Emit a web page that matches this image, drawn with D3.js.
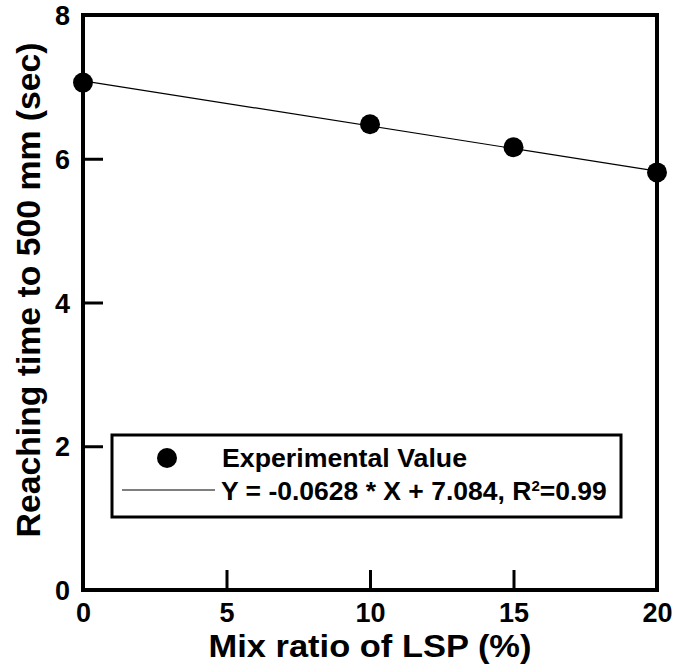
<!DOCTYPE html>
<html><head><meta charset="utf-8">
<script src="https://cdn.jsdelivr.net/npm/d3@7"></script>
<style>body{margin:0;background:#fff}</style>
</head><body>
<svg id="c" width="673" height="665"></svg>
<script>
const xValues = [0, 10, 15, 20];
const yValues = [7.06, 6.48, 6.16, 5.81];
const xTicks = [0, 5, 10, 15, 20];
const yTicks = [0, 2, 4, 6, 8];
const fitSlope = -0.0628, fitIntercept = 7.084;
const legendLabels = ["Experimental Value", "Y = -0.0628 * X + 7.084, R", "2", "=0.99"];

const svg = d3.select("#c");
const font = "'Liberation Sans', Arial, sans-serif";
const L = 83, R = 657, T = 15, B = 590;
const x = d3.scaleLinear().domain([0, 20]).range([L, R]);
const y = d3.scaleLinear().domain([0, 8]).range([B, T]);

// ticks (inward)
const xa = svg.append("g").attr("transform", `translate(0,${B})`)
  .call(d3.axisBottom(x).tickValues(xTicks).tickSizeInner(-20).tickSizeOuter(0).tickPadding(30));
const ya = svg.append("g").attr("transform", `translate(${L},0)`)
  .call(d3.axisLeft(y).tickValues(yTicks).tickSizeInner(-20).tickSizeOuter(0).tickPadding(30));
[xa, ya].forEach(a => {
  a.select(".domain").remove();
  a.selectAll("line").attr("stroke", "#000").attr("stroke-width", 3);
  a.selectAll("text").attr("font-family", font).attr("font-weight", "bold")
    .attr("font-size", 27).attr("fill", "#000");
});
xa.selectAll(".tick").filter(d => d === 0 || d === 20).select("line").remove();
ya.selectAll(".tick").filter(d => d === 0 || d === 8).select("line").remove();
xa.selectAll("text").attr("y", 13).attr("dy", "0.71em");
ya.selectAll("text").attr("x", -13).attr("dy", "0.36em");

// frame
svg.append("rect").attr("x", L).attr("y", T).attr("width", R - L).attr("height", B - T)
  .attr("fill", "none").attr("stroke", "#000").attr("stroke-width", 4);

// fit line
svg.append("line")
  .attr("x1", x(0)).attr("y1", y(fitIntercept))
  .attr("x2", x(20)).attr("y2", y(fitIntercept + fitSlope * 20))
  .attr("stroke", "#000").attr("stroke-width", 1.2);

// points
svg.selectAll("circle.pt").data(xValues).enter().append("circle")
  .attr("class", "pt")
  .attr("cx", d => x(d)).attr("cy", (d, i) => y(yValues[i])).attr("r", 10).attr("fill", "#000");

// legend
svg.append("rect").attr("x", 112).attr("y", 435).attr("width", 509).attr("height", 82)
  .attr("fill", "#fff").attr("stroke", "#000").attr("stroke-width", 3);
svg.append("circle").attr("cx", 167).attr("cy", 458).attr("r", 10).attr("fill", "#000");
svg.append("line").attr("x1", 122).attr("x2", 215).attr("y1", 490).attr("y2", 490)
  .attr("stroke", "#000").attr("stroke-width", 1.2);
svg.append("text").attr("x", 222).attr("y", 467).attr("font-family", font)
  .attr("font-weight", "bold").attr("font-size", 26.5).attr("textLength", 245)
  .attr("lengthAdjust", "spacingAndGlyphs").text(legendLabels[0]);
const t2 = svg.append("text").attr("x", 221).attr("y", 500).attr("font-family", font)
  .attr("font-weight", "bold").attr("font-size", 26.5);
t2.append("tspan").text(legendLabels[1]);
t2.append("tspan").attr("font-size", 15).attr("dy", -9).text(legendLabels[2]);
t2.append("tspan").attr("dy", 9).text(legendLabels[3]);

// axis titles
svg.append("text").attr("x", 370).attr("y", 657).attr("text-anchor", "middle")
  .attr("font-family", font).attr("font-weight", "bold").attr("font-size", 31)
  .attr("textLength", 323).attr("lengthAdjust", "spacingAndGlyphs")
  .text("Mix ratio of LSP (%)");
svg.append("text").attr("transform", `translate(40,290) rotate(-90)`)
  .attr("text-anchor", "middle")
  .attr("font-family", font).attr("font-weight", "bold").attr("font-size", 33)
  .attr("textLength", 495).attr("lengthAdjust", "spacingAndGlyphs")
  .text("Reaching time to 500 mm (sec)");
</script>
</body></html>
